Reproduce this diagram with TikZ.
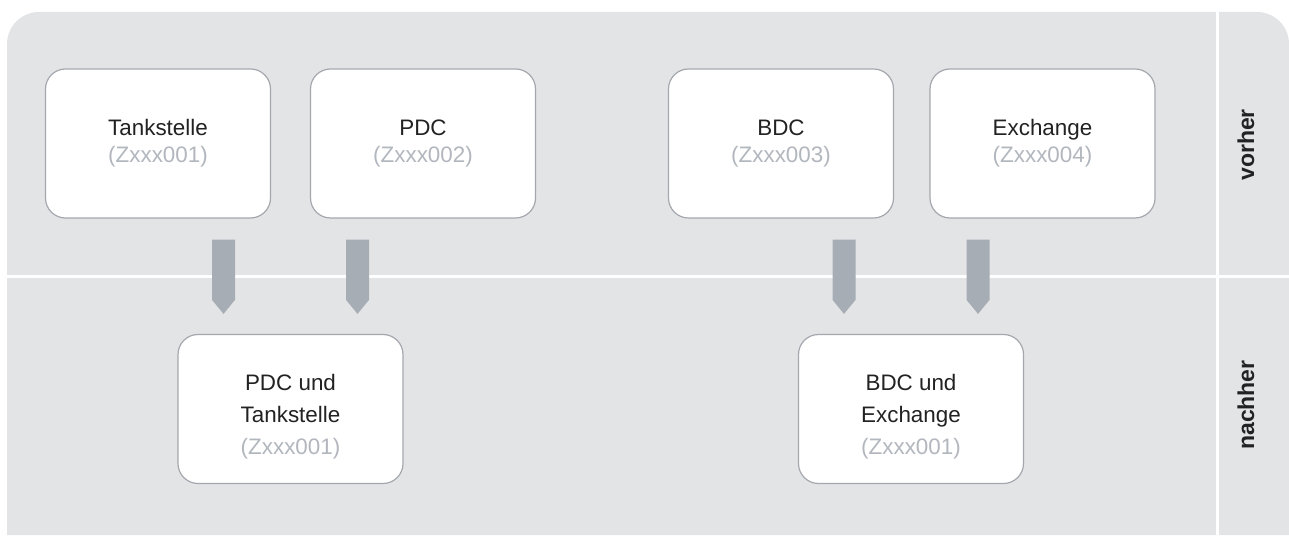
\documentclass[tikz,border=0pt]{standalone}
\usepackage{fontspec}
\setmainfont{Liberation Sans}
\usetikzlibrary{calc}
\definecolor{panelgray}{RGB}{227,228,230}
\definecolor{framegray}{RGB}{164,168,174}
\definecolor{arrowgray}{RGB}{167,173,180}
\definecolor{idgray}{RGB}{178,183,190}
\definecolor{textblack}{RGB}{34,34,34}
\newcommand{\zid}[1]{{\color{idgray}#1}}
\newcommand{\lift}{\rule{0pt}{32pt}}
\tikzset{
  box/.style={draw=framegray, line width=1.2pt, fill=white, rounded corners=20pt,
    minimum width=225pt, minimum height=149pt, align=center, text=textblack,
    font=\fontsize{22.4}{27}\selectfont},
  bigbox/.style={box, font=\fontsize{22.4}{32}\selectfont},
  phase/.style={rotate=90, text=textblack, font=\fontsize{23}{27}\selectfont\bfseries},
  merge/.style={fill=arrowgray, to path={([xshift=-11.5pt]\tikztostart) -- ([xshift=-11.5pt,yshift=14pt]\tikztotarget)
    -- (\tikztotarget) -- ([xshift=11.5pt,yshift=14pt]\tikztotarget) -- ([xshift=11.5pt]\tikztostart) -- cycle}}
}

\begin{document}
\begin{tikzpicture}[x=1pt,y=1pt]
\useasboundingbox (0,0) rectangle (1289,535);

% background panel and lanes
\fill[panelgray] (7,0) -- (7,491) arc (180:90:32) -- (1257,523) arc (90:0:32) -- (1289,0) -- cycle;
\draw[white, line width=3pt] (7,258) -- (1289,258);
\draw[white, line width=3pt] (1217,0) -- (1217,523);

\node[phase] (before) at (1246,390) {vorher};
\node[phase] (after) at (1246,130) {nachher};

% before
\node[box] (tank) at (158,391.5) {Tankstelle\\\zid{(Zxxx001)}};
\node[box] (pdc) at (423,391.5) {PDC\\\zid{(Zxxx002)}};
\node[box] (bdc) at (781,391.5) {BDC\\\zid{(Zxxx003)}};
\node[box] (exch) at (1042.5,391.5) {Exchange\\\zid{(Zxxx004)}};

% after
\node[bigbox] (pdctank) at (290.5,126) {\lift PDC und\\Tankstelle\\\zid{(Zxxx001)}};
\node[bigbox] (bdcexch) at (911,126) {\lift BDC und\\Exchange\\\zid{(Zxxx001)}};

% merge arrows
\coordinate (s1) at ($(tank.south -| pdctank.north)+(-67,-21)$);
\coordinate (e1) at ($(pdctank.north)+(-67,20)$);
\coordinate (s2) at ($(pdc.south -| pdctank.north)+(67,-21)$);
\coordinate (e2) at ($(pdctank.north)+(67,20)$);
\coordinate (s3) at ($(bdc.south -| bdcexch.north)+(-67,-21)$);
\coordinate (e3) at ($(bdcexch.north)+(-67,20)$);
\coordinate (s4) at ($(exch.south -| bdcexch.north)+(67,-21)$);
\coordinate (e4) at ($(bdcexch.north)+(67,20)$);
\foreach \i in {1,...,4}
  \fill[merge] (s\i) to (e\i);

\end{tikzpicture}
\end{document}
